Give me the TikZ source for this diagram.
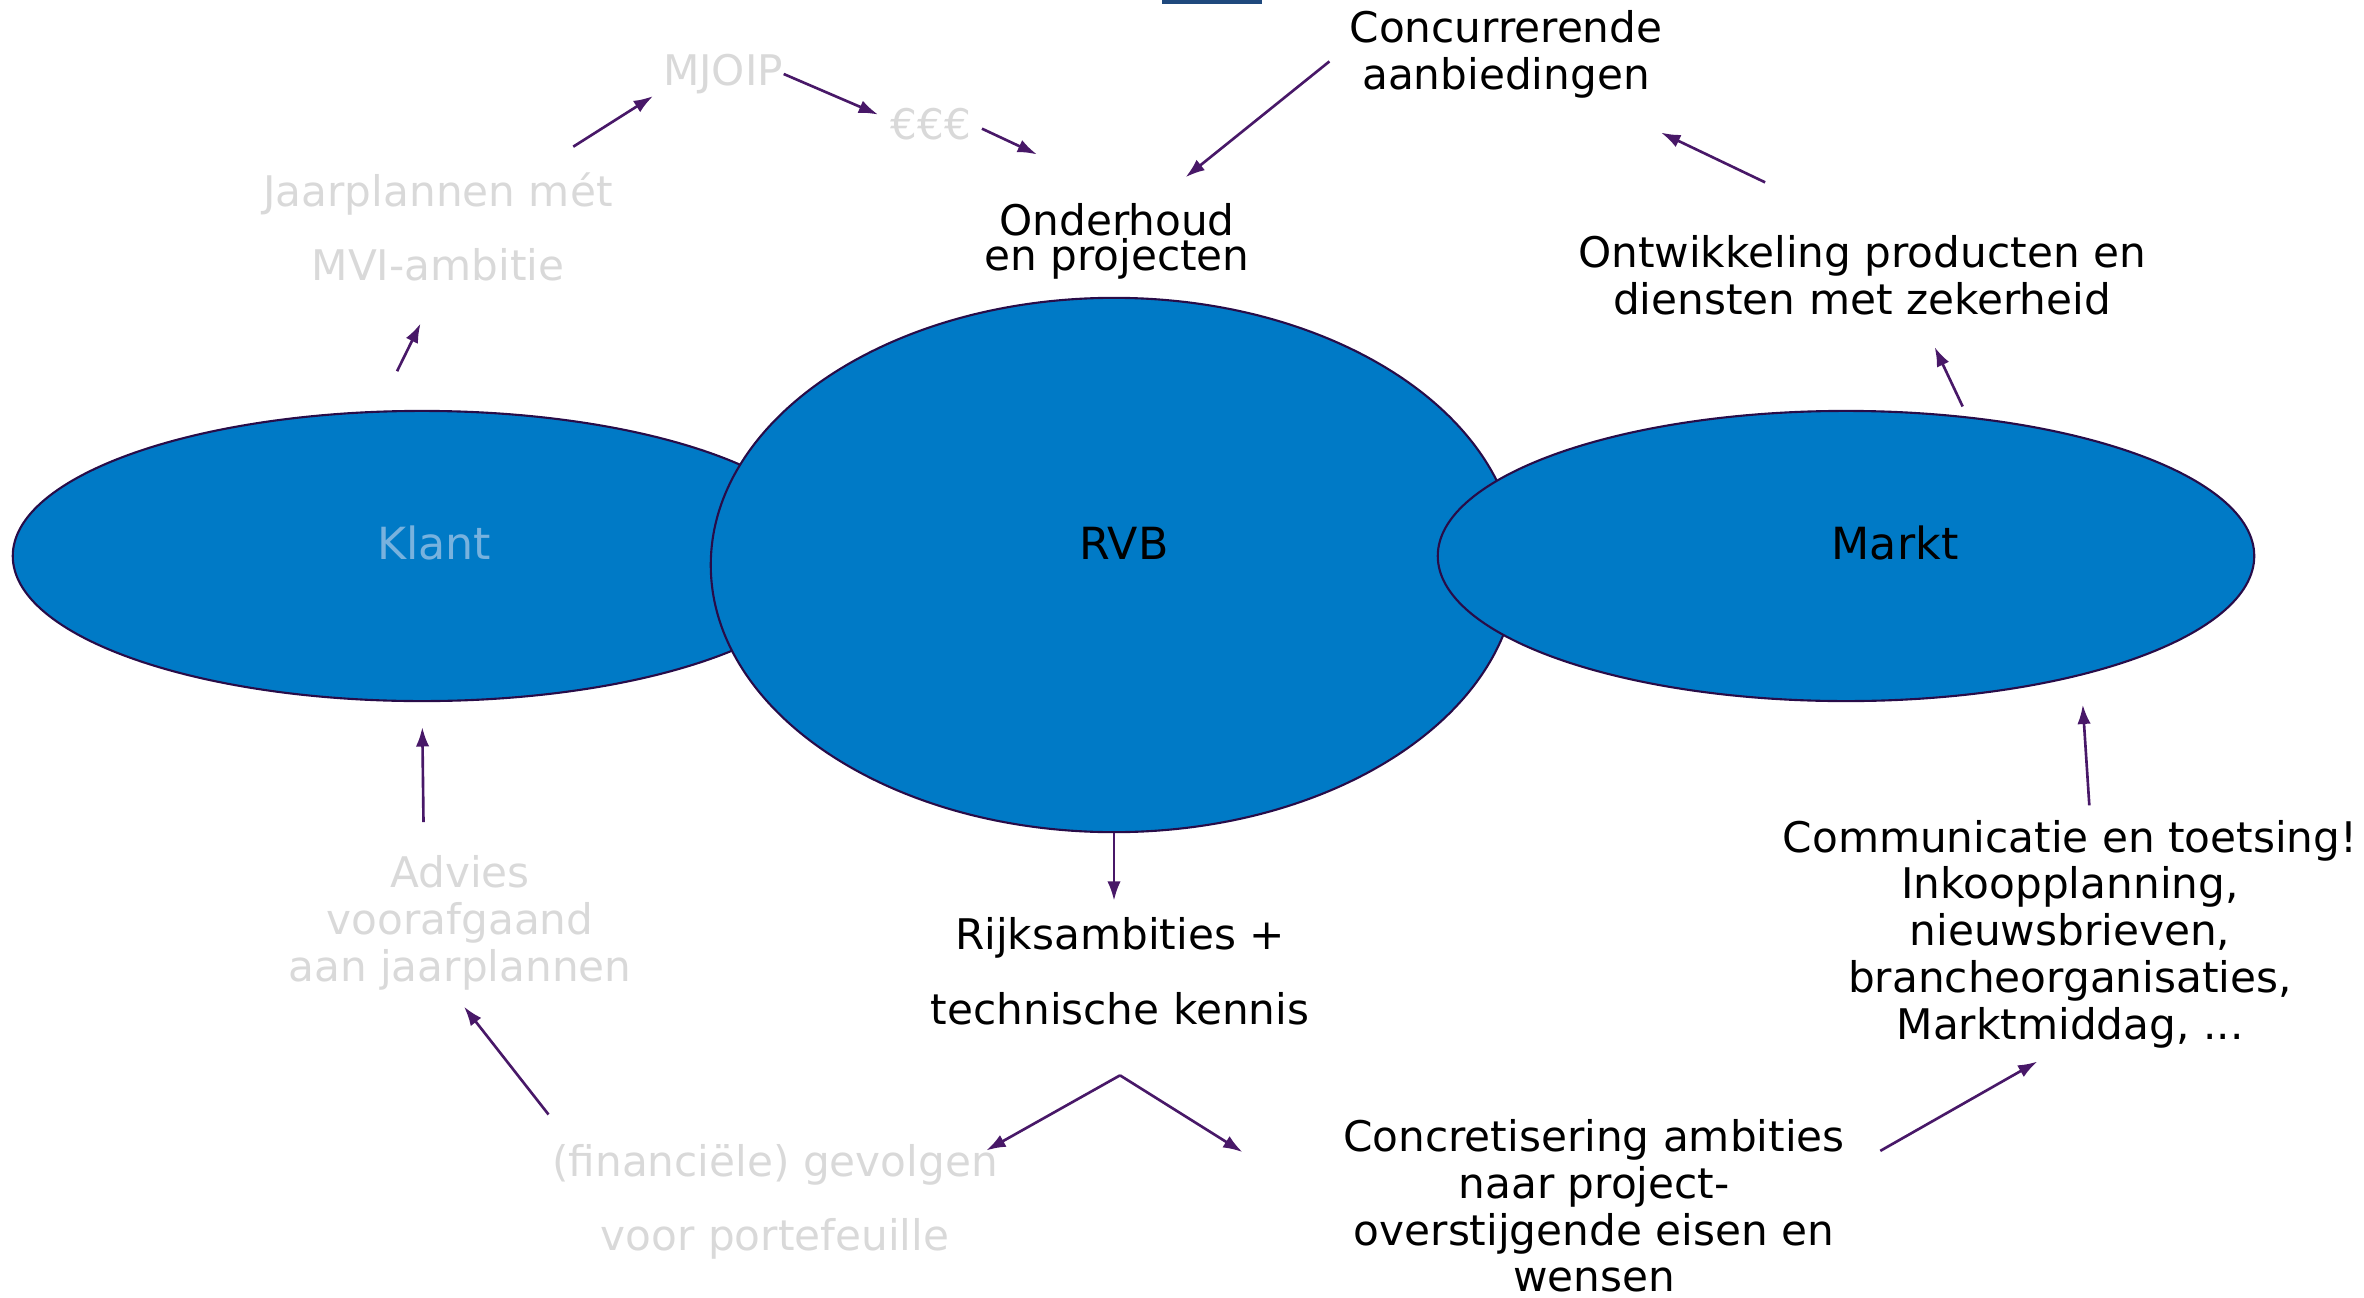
\documentclass[tikz,border=0pt]{standalone}
\usepackage{fontspec}
\setmainfont{DejaVu Sans}
\usepackage{tikz}
\usetikzlibrary{positioning,shapes,calc,arrows.meta}
\definecolor{rvbblue}{RGB}{0,122,198}
\definecolor{rimline}{RGB}{40,12,72}
\definecolor{arrowpurple}{RGB}{72,24,104}
\definecolor{fadedgray}{RGB}{217,217,217}
\definecolor{klantblue}{RGB}{120,178,222}
\definecolor{barblue}{RGB}{31,73,125}
\tikzstyle{party} = [ellipse,draw=rimline,line width=0.6pt,fill=rvbblue,inner sep=0pt]
\tikzstyle{partyname} = [inner sep=0pt,font=\fontsize{12.6}{14}\selectfont]
\tikzstyle{note} = [align=center,inner sep=0pt,font=\fontsize{12}{13.3}\selectfont]
\tikzstyle{widenote} = [note,font=\fontsize{12}{21.2}\selectfont]
\tikzstyle{tightnote} = [note,font=\fontsize{12}{10}\selectfont]
\tikzstyle{faded} = [text=fadedgray]
\tikzstyle{flow} = [->,line width=0.75pt,draw=arrowpurple,fill=arrowpurple,arrows={-{Latex[length=5.5pt,width=3.8pt]}}]

\begin{document}
\begin{tikzpicture}[x=0.01cm,y=-0.01cm]
		\useasboundingbox (0,0) rectangle (2364,1297);
		\fill[barblue] (1162,0) rectangle (1262,4);

		% the three parties
		\node (klant)[party,minimum width=8.18cm,minimum height=2.9cm,
			label={[name=klanttext,partyname,text=klantblue,xshift=0.12cm,yshift=0.13cm]center:Klant}] at (422,556) {};
		\node (rvb)[party,minimum width=8.06cm,minimum height=5.34cm,
			label={[name=rvbtext,partyname,xshift=0.1cm,yshift=0.22cm]center:RVB}] at (1114,565) {};
		\node (markt)[party,minimum width=8.16cm,minimum height=2.9cm,
			label={[name=markttext,partyname,xshift=0.49cm,yshift=0.13cm]center:Markt}] at (1846,556) {};

		% texts
		\node (mjoip)[note,faded] at (723,74) {MJOIP};
		\node (eee)[note,faded] at (931,124) {€€€};
		\node (jaar)[widenote,faded] at (438,227) {Jaarplannen mét\\MVI-ambitie};
		\node (onder)[tightnote] at (1117,241) {Onderhoud\\en projecten};
		\node (concur)[note] at (1506,54) {Concurrerende\\aanbiedingen};
		\node (ontw)[note] at (1862,275) {Ontwikkeling producten en\\diensten met zekerheid};
		\node (advies)[note,faded] at (460,923) {Advies\\voorafgaand\\aan jaarplannen};
		\node (rijks)[widenote] at (1120,971) {Rijksambities +\\technische kennis};
		\node (finan)[widenote,faded] at (775,1202) {(financiële) gevolgen\\voor portefeuille};
		\node (concr)[note] at (1594,1206) {Concretisering ambities\\naar project-\\overstijgende eisen en\\wensen};
		\node (comm)[note] at (2070,934) {Communicatie en toetsing!\\Inkoopplanning,\\nieuwsbrieven,\\brancheorganisaties,\\Marktmiddag, ...};
		\coordinate (fork) at ([yshift=-0.5cm]rijks.south);

		% arrows
		\draw[flow,shorten <=0.44cm,shorten >=0.46cm] (klant.107) -- (jaar.273);
		\draw[flow,shorten <=0.47cm,shorten >=0.11cm] (jaar.30) -- (mjoip.195);
		\draw[flow,shorten >=0.13cm] (mjoip.east) -- (eee.174);
		\draw[flow,shorten <=0.11cm,shorten >=1.13cm] (eee.east) -- (onder.60);
		\draw[flow,shorten <=0.25cm,shorten >=0.4cm] (concur.177) -- (onder.46);
		\draw[flow,shorten <=1.21cm,shorten >=0.79cm] (ontw.73) -- (concur.332);
		\draw[flow,shorten <=0.11cm,shorten >=0.35cm] (markt.49) -- (ontw.325);
		\draw[flow,shorten <=0.33cm,shorten >=0.25cm] (advies.118) -- (klant.south);
		\draw[flow,shorten >=0.16cm] (rvb.south) -- (rvb.south |- rijks.north);
		\draw[flow,shorten >=-0.14cm] (fork) -- (finan.north east);
		\draw[flow,shorten >=1.18cm] (fork) -- (concr.182);
		\draw[flow,shorten <=0.37cm,shorten >=0.2cm] (finan.164) -- (advies.263);
		\draw[flow,shorten <=0.4cm,shorten >=0.26cm] (concr.8) -- (comm.265);
		\draw[flow,shorten <=0.14cm,shorten >=0.29cm] (comm.80) -- (markt.333);
	\end{tikzpicture}
\end{document}
